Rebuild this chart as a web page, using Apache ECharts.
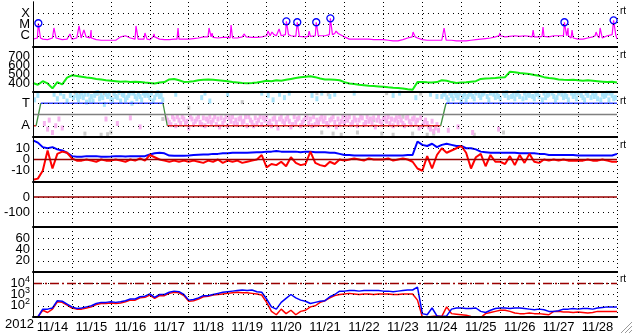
<!DOCTYPE html>
<html><head><meta charset="utf-8">
<style>html,body{margin:0;padding:0;background:#fff}#c{width:633px;height:334px}</style>
<script src="https://cdn.jsdelivr.net/npm/echarts@6/dist/echarts.min.js"></script>
</head><body><div id="c"></div>
<script>
// ---- data (time axis in hours from 2012-11-14 00:00, 3-hour samples) ----
const yearLabel = '2012';
const dayLabels = ['11/14','11/15','11/16','11/17','11/18','11/19','11/20','11/21','11/22','11/23','11/24','11/25','11/26','11/27','11/28'];
const STEP_H = 3;

// GOES X-ray (log10 W/m2)
const xrayBase = [
-6.3,-6.2,-6.3,-6.35,-6.2,-6.35,-6.35,-6.3,
-6.3,-6.2,-6.1,-6.2,-6.2,-6.35,-6.4,-6.4,
-6.4,-6.4,-6.1,-6.0,-6.2,-6.3,-6.35,-6.3,
-6.35,-6.1,-6.3,-6.35,-6.35,-6.3,-6.3,-6.3,
-6.3,-6.25,-6.2,-6.1,-6.1,-6.15,-6.2,-6.15,
-6.15,-6.2,-6.2,-6.1,-6.05,-6.15,-6.15,-6.1,
-6.0,-5.9,-6.0,-6.0,-5.9,-6.0,-6.05,-6.1,
-6.1,-6.05,-6.0,-6.0,-6.0,-5.9,-5.8,-5.95,
-6.1,-6.3,-6.3,-6.3,-6.3,-6.3,-6.35,-6.35,
-6.35,-6.4,-6.45,-6.45,-6.35,-6.2,-6.1,-6.2,
-6.35,-6.4,-6.4,-6.4,-6.4,-6.35,-6.4,-6.45,
-6.45,-6.45,-6.4,-6.35,-6.3,-6.25,-6.2,-6.1,
-6.0,-6.1,-6.05,-6.0,-6.05,-6.0,-6.05,-6.1,
-6.1,-6.05,-6.1,-6.0,-6.0,-6.0,-6.0,-6.2,
-6.3,-6.3,-6.2,-6.1,-6.0,-6.2,-6.0,-5.9,-6.3];
const xraySpikeHours = [12.9,22.8,28.4,31.4,35.8,63.5,69.0,74.6,89.4,108.5,110.4,122.1,130.1,144.9,147.3,151.7,170.2,186.8,234.3,253.4,287.9,308.3,314.4,329.8,332.3,347.1,349.6];
const xraySpikeLogs  = [-5.31,-5.84,-5.13,-5.49,-5.49,-5.13,-5.76,-5.84,-5.31,-5.31,-5.76,-5.04,-5.84,-5.58,-5.67,-5.4,-5.58,-5.58,-5.67,-5.31,-5.76,-5.49,-5.22,-5.31,-5.49,-5.67,-5.31];
const flareHours = [3.3,156.2,162.9,174.6,183.3,327.6,357.9];
const flareLogs  = [-4.89,-4.72,-4.8,-4.8,-4.45,-4.8,-4.63];

// solar wind speed (km/s)
const windSpeed = [
400,380,420,395,340,410,385,460,
485,478,470,462,455,445,438,430,
425,420,415,418,410,415,412,405,
400,395,405,410,440,445,430,412,
415,420,430,435,440,435,430,425,
420,410,405,400,398,400,405,415,
425,420,430,425,435,445,455,465,
470,475,465,450,440,438,435,430,
410,395,388,380,375,370,366,362,
358,352,348,345,340,330,325,410,
412,408,405,410,430,425,410,400,
405,408,415,420,445,450,452,455,
460,465,525,520,510,505,500,490,
480,465,455,450,440,435,432,435,
430,425,430,425,420,415,410,415,405];

// IMF sector: A = 1, T = 3
const polarityHours = [0,1.9,4.8,80.1,82.8,251.3,254.6,360];
const polarityState = [1,1,3,3,1,1,3,3];
const towardCloud = [[1,3.3],[3,3.7],[13,3.8],[15,3.4],[17,3.9],[19,3.6],[21,3.2],[23,3.7],[25,3.5],
[27,3.7],[28,3.3],[30,3.9],[31,3.5],[33,3.1],[34,3.8],[36,3.6],[37,3.2],[39,3.9],[41,3.4],[42,3.7],[44,2.9],[46,3.6],[47,3.85],[49,3.3],[51,3.6],[53,3.95],[54,3.2],[56,3.7],[58,3.5],[60,3.9],[61,3.0],[63,3.6],[65,3.8],[67,3.3],[69,3.7],[70,3.9],[72,3.5],[74,3.2],[76,3.8],[78,3.6],[80,3.3],
[27.5,3.5],[29,3.6],[32,3.8],[35,3.3],[38,3.7],[40,3.95],[43,3.5],[45,3.8],[48,3.4],[50,3.9],[52,3.5],[55,3.8],[57,3.3],[59,3.7],[62,3.9],[64,3.4],[66,3.6],[68,3.9],[71,3.7],[73,3.9],[75,3.5],[77,3.95],[79,3.7],
[88,3.8],[104,3.5],[106,3.9],[109,3.2],[120,3.8],[141,3.9],[145,3.7],[148,3.3],[152,3.8],[155,3.5],[158,3.9],[172,3.7],[175,3.4],[178,3.9],[183,3.6],[186,3.8],[198,3.9],[222,3.7],[226,3.9],[236,3.5],[245,3.8],[249,3.6],
[252,3.6],[254,3.9],[256,3.3],[258,3.7],[260,3.9],[262,3.5],[264,3.2],[266,3.8],[268,3.6],[270,3.9],[272,3.4],[275,3.7],[278,3.9],[281,3.3],[284,3.8],[287,3.6],[290,3.9],[293,3.5],[296,3.7],[299,3.95],[302,3.4],[305,3.8],[308,3.6],[311,3.9],[314,3.3],[317,3.7],[320,3.9],[323,3.5],[326,3.8],[329,3.6],[332,3.9],[335,3.4],[338,3.7],[341,3.9],[344,3.5],[347,3.8],[350,3.3],[353,3.7],[356,3.9],[358,3.4],
[253,3.8],[255,3.5],[257,3.9],[259,3.4],[261,3.7],[263,3.9],[265,3.6],[267,3.3],[269,3.8],[271,3.6],[273,3.9],[276,3.5],[277,3.8],[280,3.6],[282,3.9],[285,3.5],[286,3.9],[288,3.4],[291,3.7],[292,3.95],[295,3.6],[297,3.4],[298,3.8],[300,3.6],[303,3.9],[304,3.5],[306,3.7],[309,3.4],[310,3.8],[312,3.6],[315,3.9],[316,3.5],[318,3.8],[321,3.6],[322,3.3],[324,3.9],[327,3.5],[328,3.8],[330,3.3],[333,3.6],[334,3.8],[336,3.9],[339,3.5],[340,3.3],[342,3.7],[345,3.9],[346,3.6],[348,3.4],[351,3.8],[352,3.6],[354,3.9],[355,3.3],[357,3.7],[359,3.5]];
const awayCloud = [[7,1.2],[9,0.7],[10,1.5],[12,0.4],[14,1.0],[16,1.6],[18,0.8],[45,1.6],[52,1.2],[60,1.7],[66,0.9],
[82,1.7],[84,1.3],[86,1.8],[88,1.0],[90,1.5],[92,1.8],[94,1.2],[96,0.8],[98,1.6],[100,1.4],[102,1.8],[104,1.1],[107,1.6],[110,1.3],[112,1.8],[115,0.9],[118,1.5],[121,1.7],[124,1.2],[127,1.6],[130,1.4],[133,1.8],[136,1.0],[139,1.5],[142,1.7],[145,1.2],[148,1.6],[151,0.8],[154,1.4],[157,1.8],[160,1.1],[163,1.6],[166,1.3],[169,1.7],[172,1.0],[175,1.5],[178,1.8],[181,1.2],[184,1.6],[187,0.9],[190,1.4],[193,1.7],[196,1.1],[199,1.5],[202,1.8],[205,1.3],[208,1.6],[211,0.9],[214,1.4],[217,1.7],[220,1.2],[223,1.5],[226,1.8],[229,1.0],[232,1.4],[235,1.7],[238,0.8],[241,1.3],[244,0.9],[247,0.5],[249,1.1],
[83,1.5],[85,1.1],[87,1.6],[89,1.8],[91,1.2],[93,1.6],[95,1.4],[97,1.8],[99,1.1],[101,1.6],[103,1.3],[105,1.7],[106,1.0],[108,1.4],[109,1.8],[111,1.5],[113,1.1],[114,1.6],[116,1.7],[117,1.2],[119,1.8],[120,1.0],[122,1.4],[123,1.8],[125,1.5],[126,1.1],[128,1.7],[129,1.3],[131,1.8],[132,1.0],[134,1.5],[135,1.3],[137,1.7],[138,1.2],[140,1.8],[141,1.1],[143,1.5],[144,1.8],[146,1.4],[147,1.0],[149,1.7],[150,1.3],[152,1.6],[153,1.8],[155,1.2],[156,1.6],[158,1.4],[159,0.9],[161,1.8],[162,1.3],[164,1.7],[165,1.0],[167,1.5],[168,1.8],[170,1.2],[171,1.6],[173,1.8],[174,1.1],[176,1.3],[177,1.6],[179,1.4],[180,1.7],[182,1.0],[183,1.5],[185,1.8],[186,1.3],[188,1.6],[189,1.1],[191,1.8],[192,1.3],[194,1.5],[195,1.8],[197,1.3],[198,1.7],[200,1.0],[201,1.5],[203,1.7],[204,1.1],[206,1.8],[207,1.4],[209,1.2],[210,1.7],[212,1.5],[213,1.8],[215,1.1],[216,1.6],[218,1.4],[219,1.8],[221,1.6],[222,1.0],[224,1.7],[225,1.3],[227,1.5],[228,1.2],[230,1.7],[231,1.8],[233,1.1],[234,1.6],[236,1.3],[237,1.5],[239,1.7],[240,1.0],[242,1.5],[243,1.2],[245,0.7],[246,1.4],[248,0.8],[250,0.6],
[256,0.6],[262,0.9],[271,0.4],[287,0.7]];
const grayCloud = [[26,3.95],[29,3.9],[32,0.3],[40,3.85],[42,0.2],[44,3.9],[46,0.25],[48,0.4],[50,3.8],[80,1.6],[96,2.6],[129,3.1],[175,3.9],[178,0.4],[182,3.8],[185,0.3],[190,0.2],[200,0.4],[210,1.5],[215,0.3],[218,3.9],[222,0.2],[228,1.8],[234,0.3],[239,3.85],[243,0.2],[247,0.3],[262,3.6],[272,0.2],[290,0.4],[326,3.95],[336,3.9]];

// IMF Bt (blue) and Bz (red), nT
const bt = [
17,15,11,10,11,9,8,6,
3,2.5,2.5,3,3,3,2.5,2.5,
2.7,3,3,2.7,3,3,3,3,
4.5,5.5,6,5.5,3.5,3.3,3.3,3.3,
3.5,4,4.3,4.5,4.5,5,5,5.5,
5.5,6,6,6,6,6.2,6.4,6.5,
7,7,7.5,7,7,7,7,6.5,
7,7,6.5,6.5,6.5,6,6,5,
4,4,3.5,3.5,3.5,3.5,3.5,3.5,
3.5,3.5,3.5,3.5,3.5,4,4,16,
13,12,14,11,13,14,13,12,
12,10,10,9,7,6.5,6,6,
6,6,6,6,5.5,5.5,5.5,5.5,
5,5,4,4,4,4,4,4,
3.5,3.5,3.5,3.5,3.5,3.5,3.5,3.5,5];
const bz = [
-18,-17,-10,8,-8,5,7,6,
1,-1,-1,0,-1,-2,0,-1,
-1,0,-1,-2,0,-1,1,-1,
4,2,0,-1,-2,-1,-2,-1,
-2,-1,-2,-3,-1,-2,0,-3,
-1,-2,-1,-3,-2,-1,0,4,
-7,-4,-5,-2,-6,2,-3,-5,
-4,7,-3,-5,-6,-2,-4,0,
-1,0,1,0,-1,1,0,0,
0,1,-1,0,1,0,-2,-8,
-10,3,-8,4,10,6,8,10,
12,6,-8,2,5,-6,4,-2,
-2,-4,3,-5,4,-3,5,-2,
-3,0,-1,0,-1,0,-1,-1,
-1,-1,0,-1,-1,0,-1,-2,-2];

// particle flux, log10 (blue and red channels)
const fluxBlue = [
1.0,1.0,1.7,1.7,1.8,2.45,2.4,2.15,
1.9,1.75,1.8,1.9,2.0,2.2,2.3,2.3,
2.35,2.3,2.35,2.45,2.6,2.6,2.8,2.85,
3.05,2.75,3.0,3.0,3.2,3.3,3.25,3.0,
2.5,2.55,2.7,2.9,2.9,3.0,3.1,3.2,
3.25,3.3,3.35,3.4,3.35,3.4,3.25,3.2,
2.6,1.9,1.7,2.3,2.65,3.0,2.7,2.5,
2.4,2.2,2.3,2.4,2.45,2.8,3.0,3.3,
3.3,3.35,3.35,3.3,3.35,3.35,3.35,3.35,
3.3,3.3,3.25,3.3,3.35,3.4,3.4,3.65,
1.3,1.2,1.8,1.1,1.05,1.1,1.7,1.8,
1.8,1.75,1.75,1.8,1.5,1.4,1.6,1.75,
1.8,1.8,1.75,1.8,1.8,1.75,1.7,1.65,
1.7,1.65,1.5,1.5,1.55,1.7,1.7,1.75,
1.7,1.75,1.75,1.7,1.8,1.85,1.9,1.9,1.9];
const fluxRed = [
0.95,1.0,1.6,1.4,1.7,2.35,2.3,2.05,
1.8,1.7,1.7,1.8,1.9,2.1,2.2,2.2,
2.25,2.2,2.25,2.35,2.5,2.5,2.7,2.75,
2.95,2.65,2.9,2.9,3.1,3.2,3.15,2.9,
2.4,2.45,2.6,2.8,2.85,2.95,3.0,3.05,
3.1,3.15,3.2,3.15,3.15,3.1,3.05,2.95,
2.3,1.5,1.2,1.7,1.3,1.6,1.2,1.5,
1.6,1.9,2.0,2.3,2.45,2.7,2.9,3.0,
3.05,3.1,3.05,3.0,3.05,3.05,3.0,3.05,
3.05,3.05,3.0,3.0,3.05,3.05,3.05,2.5,
1.0,1.0,1.05,1.1,1.05,1.9,1.3,1.25,
1.2,1.15,1.05,1.0,0.95,1.3,1.4,1.5,
1.6,1.6,1.5,1.35,1.3,1.3,1.35,1.3,
1.3,1.25,1.2,1.5,1.5,1.45,1.45,1.4,
1.45,1.4,1.35,1.4,1.5,1.5,1.5,1.5,1.5];

// ---- chart ----
const FONT = 'Liberation Sans, Arial, Helvetica, sans-serif';
const PANEL_TOP = [2,47,92,137,182,227,272];
const PANEL_H = 45;
const PANEL_MAX = [-3,800,4,20,100,80,5];
const DOT_H = [1,4];
const DOT_V = [1,3];
const toXY = arr => arr.map((v,i)=>[i*STEP_H, v]);

const xrayPts = toXY(xrayBase);
function addSpike(h,p){
  const b = xrayBase[Math.min(xrayBase.length-1, Math.round(h/STEP_H))];
  xrayPts.push([h-0.6,b],[h,p],[h+1.3,b]);
}
xraySpikeHours.forEach((h,i)=>addSpike(h, xraySpikeLogs[i]));
flareHours.forEach((h,i)=>addSpike(h, flareLogs[i]));
xrayPts.sort((a,b)=>a[0]-b[0]);

const grids = PANEL_TOP.map(t=>({left:33, right:16, top:t, height:PANEL_H}));
const xAxes = PANEL_TOP.map((t,i)=>({
  gridIndex:i, type:'value', min:0, max:360, interval:24, position:'bottom', z:6,
  axisLine:{show:true, onZero:false, lineStyle:{color:'#000', width:2}},
  axisTick:{show:false}, axisLabel:{show:false},
  splitLine:{show:true, lineStyle:{color:'#000', width:1, type:DOT_V}}
}));
xAxes.push({
  gridIndex:6, type:'value', min:0, max:360, interval:12, position:'bottom', offset:0,
  axisLine:{show:false}, axisTick:{show:false}, splitLine:{show:false},
  axisLabel:{show:true, color:'#000', fontFamily:FONT, fontSize:13, margin:4, hideOverlap:false,
    formatter:v=>{ if (v % 24 === 12) return dayLabels[(v-12)/24] || ''; return ''; }}
});

function yAx(i, min, max, interval, labels, split){
  return {
    gridIndex:i, type:'value', min, max, interval, position:'left', z:5,
    axisLine:{show:true, onZero:false, lineStyle:{color:'#000', width:1}},
    axisTick:{show:false},
    axisLabel:{show:true, color:'#000', fontFamily:FONT, fontSize:13, margin:3,
      formatter: v => (labels[v] !== undefined ? labels[v] : ''), rich:{s:{fontSize:9, fontFamily:FONT, color:'#000', padding:[0,0,8,0]}, b:{fontSize:13, fontFamily:FONT, color:'#000'}}},
    splitLine:{show:split, lineStyle:{color:'#000', width:1, type:DOT_H}}
  };
}
const yAxes = [
  yAx(0,-7,-3,1,{'-4':'X','-5':'M','-6':'C'}, false),
  yAx(1,300,800,100,{400:'400',500:'500',600:'600',700:'700'}, true),
  yAx(2,0,4,1,{3:'T',1:'A'}, true),
  yAx(3,-20,20,10,{10:'10',0:'0','-10':'-10'}, true),
  yAx(4,-200,100,100,{0:'0','-100':'-100'}, true),
  yAx(5,0,80,20,{20:'20',40:'40',60:'60'}, true),
  yAx(6,1,5,1,{2:'{b|10}{s|2}',3:'{b|10}{s|3}',4:'{b|10}{s|4}'}, true)
];
PANEL_TOP.forEach((t,i)=>yAxes.push({gridIndex:i, type:'value', position:'right', min:0, max:1, z:6,
  axisLine:{show:true, lineStyle:{color:'#000', width:1}}, axisTick:{show:false}, axisLabel:{show:false}, splitLine:{show:false}}));

const ml = (vals, color, type, width) => ({silent:true, symbol:['none','none'], label:{show:false},
  lineStyle:{color, type, width}, emphasis:{disabled:true}, data: vals.map(v=>({yAxis:v}))});

const series = [];
// panel frames: solid top border for panels 2..7
for (let i=1;i<PANEL_TOP.length;i++){
  series.push({type:'line', xAxisIndex:i, yAxisIndex:i, data:[], z:7, markLine: ml([PANEL_MAX[i]], '#000', 'solid', 2)});
}
// panel 1
series.push({type:'line', xAxisIndex:0, yAxisIndex:0, data:xrayPts, showSymbol:false, symbol:'none',
  lineStyle:{color:'#ff00ff', width:1.2}, z:3, markLine: ml([-4,-5,-6], '#000', DOT_H, 1)});
series.push({type:'scatter', xAxisIndex:0, yAxisIndex:0, data:flareHours.map((h,i)=>[h, flareLogs[i]]),
  symbol:'circle', symbolSize:7, itemStyle:{color:'rgba(0,0,0,0)', borderColor:'#0000ff', borderWidth:1.3, opacity:1}, z:4});
// panel 2
series.push({type:'line', xAxisIndex:1, yAxisIndex:1, data:toXY(windSpeed), showSymbol:false, symbol:'none',
  lineStyle:{color:'#11ee11', width:2}});
// panel 3
series.push({type:'scatter', xAxisIndex:2, yAxisIndex:2, data:grayCloud, symbol:'rect', symbolSize:[3,4], itemStyle:{color:'#cccccc', opacity:1}, z:1});
series.push({type:'scatter', xAxisIndex:2, yAxisIndex:2, data:towardCloud, symbol:'rect', symbolSize:[3,5], itemStyle:{color:'#a8e4fb', opacity:1}, z:1});
series.push({type:'scatter', xAxisIndex:2, yAxisIndex:2, data:awayCloud, symbol:'rect', symbolSize:[3,5], itemStyle:{color:'#f7b4ef', opacity:1}, z:1});
series.push({type:'line', xAxisIndex:2, yAxisIndex:2, data:[], markLine: ml([2], '#808080', 'solid', 1.3)});
for (let k=0;k<polarityHours.length-1;k++){
  const a = polarityState[k], b = polarityState[k+1];
  const col = (a===1 && b===1) ? '#dd2222' : (a===3 && b===3) ? '#3344ff' : '#3f8f3f';
  series.push({type:'line', xAxisIndex:2, yAxisIndex:2, data:[[polarityHours[k],a],[polarityHours[k+1],b]],
    showSymbol:false, symbol:'none', lineStyle:{color:col, width:1.3}, z:3});
}
// panel 4
series.push({type:'line', xAxisIndex:3, yAxisIndex:3, data:toXY(bt), showSymbol:false, symbol:'none',
  lineStyle:{color:'#0000ff', width:2}, z:3, markLine: ml([0], '#990000', 'solid', 1.3)});
series.push({type:'line', xAxisIndex:3, yAxisIndex:3, data:toXY(bz), showSymbol:false, symbol:'none',
  lineStyle:{color:'#ff0000', width:2}, z:4});
// panel 5
series.push({type:'line', xAxisIndex:4, yAxisIndex:4, data:[], markLine: ml([0], '#990000', 'solid', 1.5)});
// panel 7
series.push({type:'line', xAxisIndex:6, yAxisIndex:6, data:toXY(fluxRed), showSymbol:false, symbol:'none',
  lineStyle:{color:'#ff0000', width:1.5}, z:3, markLine: ml([4], '#990000', [9,3,2,3], 1.3)});
series.push({type:'line', xAxisIndex:6, yAxisIndex:6, data:toXY(fluxBlue), showSymbol:false, symbol:'none',
  lineStyle:{color:'#0000ff', width:1.5}, z:4});

const rtText = (y) => ({type:'text', left:620, top:y, style:{text:'rt', font:'10px '+FONT, fill:'#000'}});
const chart = echarts.init(document.getElementById('c'), null, {renderer:'canvas'});
chart.setOption({
  animation:false, backgroundColor:'#fff',
  grid:grids, xAxis:xAxes, yAxis:yAxes, series,
  graphic:[
    {type:'text', left:5, top:318, style:{text:yearLabel, font:'13px '+FONT, fill:'#000'}},
    rtText(6), rtText(50), rtText(96), rtText(140), rtText(274),
    {type:'line', shape:{x1:621,y1:333,x2:632,y2:322}, style:{stroke:'#999', lineWidth:1}},
    {type:'line', shape:{x1:625,y1:333,x2:632,y2:326}, style:{stroke:'#999', lineWidth:1}},
    {type:'line', shape:{x1:629,y1:333,x2:632,y2:330}, style:{stroke:'#999', lineWidth:1}}
  ]
});
</script></body></html>
